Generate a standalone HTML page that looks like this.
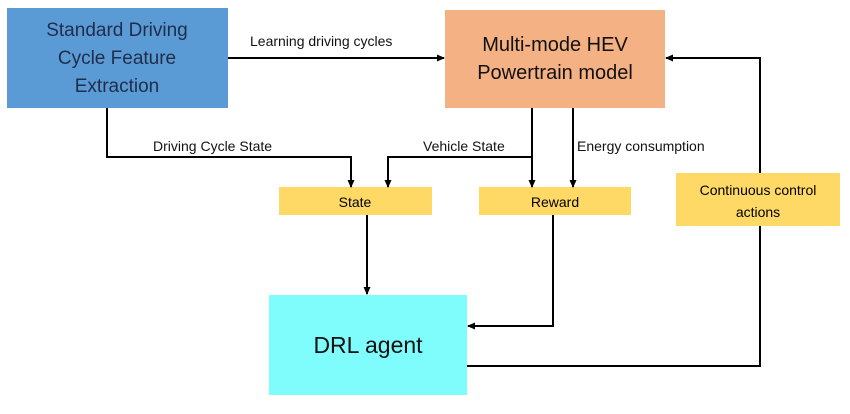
<!DOCTYPE html>
<html><head><meta charset="utf-8"><style>
body{margin:0;background:#fff;}
svg text{font-family:"Liberation Sans",sans-serif;}
</style></head><body>
<svg width="850" height="409" viewBox="0 0 850 409" xmlns="http://www.w3.org/2000/svg">
<defs><marker id="a" markerWidth="8" markerHeight="8" refX="7" refY="4" orient="auto" markerUnits="userSpaceOnUse"><path d="M0,0.5 L8,4 L0,7.5 z" fill="#000"/></marker></defs>
<rect x="7" y="8" width="221" height="100" fill="#5b9bd5"/>
<text font-size="19" fill="#1f2d4a" text-anchor="middle"><tspan x="117" y="36">Standard Driving</tspan><tspan x="117" y="64">Cycle Feature</tspan><tspan x="117" y="92">Extraction</tspan></text>
<rect x="445" y="10" width="220" height="98" fill="#f4b183"/>
<text font-size="20" fill="#111" text-anchor="middle"><tspan x="555" y="51">Multi-mode HEV</tspan><tspan x="555" y="79">Powertrain model</tspan></text>
<rect x="279" y="187" width="153" height="28" fill="#ffd966"/>
<text x="355" y="207" font-size="14" text-anchor="middle">State</text>
<rect x="479" y="187" width="152" height="28" fill="#ffd966"/>
<text x="555" y="207" font-size="14" text-anchor="middle">Reward</text>
<rect x="676" y="173" width="164" height="53" fill="#ffd966"/>
<text font-size="14" text-anchor="middle"><tspan x="758" y="195">Continuous control</tspan><tspan x="758" y="217">actions</tspan></text>
<rect x="269" y="295" width="198" height="100" fill="#7ffcfc"/>
<text x="368" y="353" font-size="23" fill="#111" text-anchor="middle">DRL agent</text>
<g stroke="#000" stroke-width="2" fill="none">
<path d="M228,58 H444" marker-end="url(#a)"/>
<path d="M107,108 V157 H351 V187" marker-end="url(#a)"/>
<path d="M532,108 V187" marker-end="url(#a)"/>
<path d="M532,157 H388 V187" marker-end="url(#a)"/>
<path d="M573,108 V187" marker-end="url(#a)"/>
<path d="M760,173 V58 H666" marker-end="url(#a)"/>
<path d="M367,215 V294" marker-end="url(#a)"/>
<path d="M553,215 V326 H468" marker-end="url(#a)"/>
<path d="M467,366 H760 V226"/>
</g>
<g font-size="14" fill="#111">
<text x="250" y="46">Learning driving cycles</text>
<text x="153" y="151">Driving Cycle State</text>
<text x="423" y="151">Vehicle State</text>
<text x="577" y="151">Energy consumption</text>
</g>
</svg>
</body></html>
